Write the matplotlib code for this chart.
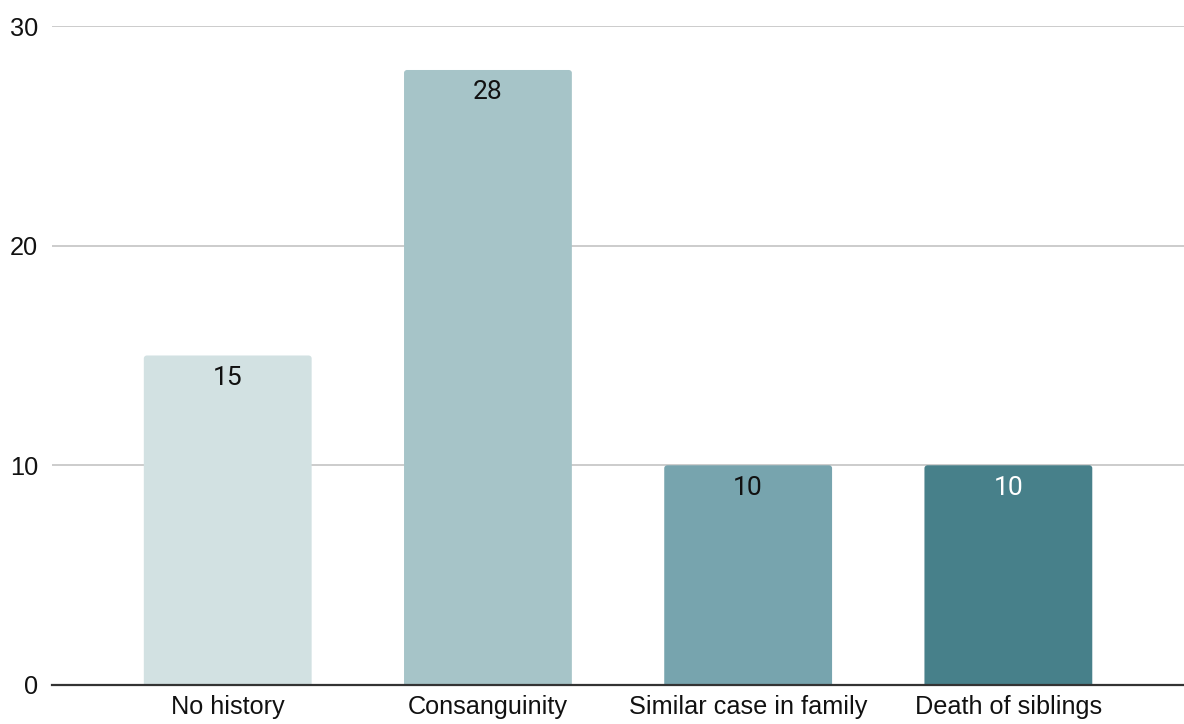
import matplotlib
matplotlib.use("Agg")
import matplotlib.pyplot as plt
from matplotlib.path import Path
from matplotlib.patches import PathPatch

categories = ["No history", "Consanguinity", "Similar case in family", "Death of siblings"]
values = [15, 28, 10, 10]
bar_colors = ["#d2e1e2", "#a6c4c8", "#77a4ae", "#47808a"]
label_colors = ["#111111", "#111111", "#111111", "#ffffff"]
y_ticks = [0, 10, 20, 30]

fig = plt.figure(figsize=(11.84, 7.24), dpi=100)
ax = fig.add_axes([0.044, 0.054, 0.956, 0.910])

width = 0.645
bars = ax.bar(range(len(categories)), values, width=width, color=bar_colors, zorder=2)

# Replace each rectangle with a path whose top corners are slightly rounded
K = 0.5523
rx, ry = 0.012, 0.13
for b in bars:
    x0, y0 = b.get_x(), b.get_y()
    x1, y1 = x0 + b.get_width(), y0 + b.get_height()
    verts = [
        (x0, y0), (x0, y1 - ry),
        (x0, y1 - ry + K * ry), (x0 + rx - K * rx, y1), (x0 + rx, y1),
        (x1 - rx, y1),
        (x1 - rx + K * rx, y1), (x1, y1 - ry + K * ry), (x1, y1 - ry),
        (x1, y0), (x0, y0),
    ]
    codes = [Path.MOVETO, Path.LINETO,
             Path.CURVE4, Path.CURVE4, Path.CURVE4,
             Path.LINETO,
             Path.CURVE4, Path.CURVE4, Path.CURVE4,
             Path.LINETO, Path.CLOSEPOLY]
    ax.add_patch(PathPatch(Path(verts, codes), facecolor=b.get_facecolor(),
                           edgecolor="none", zorder=2))
    b.set_visible(False)

for i, v in enumerate(values):
    ax.annotate(str(v), (i, v), xytext=(0, -16), textcoords="offset points",
                ha="center", va="center", fontsize=19, family="Roboto",
                color=label_colors[i], zorder=3)

ax.set_xlim(-0.675, 3.675)
ax.set_ylim(0, 30)
ax.set_yticks(y_ticks)
ax.set_yticklabels([str(t) for t in y_ticks], fontsize=18.3, family="Liberation Sans", color="#111111")
ax.set_xticks(range(len(categories)))
ax.set_xticklabels(categories, fontsize=18.2, family="Liberation Sans", color="#111111")
ax.tick_params(axis="both", length=0)
ax.tick_params(axis="y", pad=10)
ax.tick_params(axis="x", pad=7)

ax.grid(axis="y", color="#c8c8c8", linewidth=1.3, zorder=1)
ax.set_axisbelow(True)
for s in ["top", "right", "left"]:
    ax.spines[s].set_visible(False)
ax.spines["bottom"].set_color("#333333")
ax.spines["bottom"].set_linewidth(1.6)
ax.spines["bottom"].set_zorder(4)

fig.savefig("out.png", dpi=100, facecolor="white")
